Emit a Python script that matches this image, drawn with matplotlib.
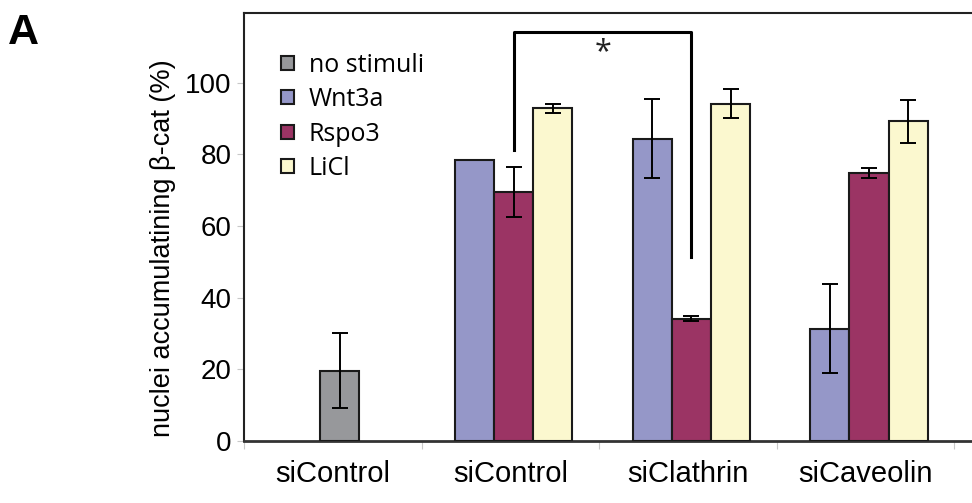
import matplotlib.pyplot as plt
import numpy as np

plt.rcParams['font.family'] = ['Liberation Sans', 'DejaVu Sans']

categories = ["siControl", "siControl", "siClathrin", "siCaveolin"]
series = ["no stimuli", "Wnt3a", "Rspo3", "LiCl"]
colors = ["#97989b", "#9597c8", "#9b3464", "#fbf8cf"]

# no stimuli only in the first group
nostim_val = [19.6]
nostim_err = [10.5]
# stimulated groups: siControl, siClathrin, siCaveolin
wnt3a_val = [78.5, 84.4, 31.4]
wnt3a_err = [np.nan, 11.0, 12.4]
rspo3_val = [69.5, 34.1, 74.9]
rspo3_err = [7.0, 0.7, 1.4]
licl_val = [92.9, 94.2, 89.3]
licl_err = [1.2, 4.1, 6.0]

fig = plt.figure(figsize=(9.72, 5.03), dpi=100)
ax = fig.add_axes([0.251, 0.1233, 0.749, 0.851])

w = 0.22
ekw = dict(ecolor="black", elinewidth=1.4, capsize=6, capthick=1.4)
bkw = dict(edgecolor="#1a1a1a", linewidth=1.5, zorder=3)

ax.bar([0.04], nostim_val, w, yerr=nostim_err, color=colors[0], label=series[0],
       error_kw=ekw, **bkw)
grp = np.array([1, 2, 3])
ax.bar(grp - 0.2, wnt3a_val, w, yerr=wnt3a_err, color=colors[1], label=series[1],
       error_kw=ekw, **bkw)
ax.bar(grp + 0.02, rspo3_val, w, yerr=rspo3_err, color=colors[2], label=series[2],
       error_kw=ekw, **bkw)
ax.bar(grp + 0.24, licl_val, w, yerr=licl_err, color=colors[3], label=series[3],
       error_kw=ekw, **bkw)

# significance bracket between siControl/Rspo3 and siClathrin/Rspo3
x1, x2 = 1 + 0.02, 2 + 0.02
ax.plot([x1, x1, x2, x2], [81.3, 114.3, 114.3, 51.4], color="black", lw=2.2,
        zorder=4, clip_on=False)
ax.text((x1 + x2) / 2, 108.5, "*", ha="center", va="center", fontsize=22,
        family=["Open Sans", "DejaVu Sans"], color="#222222")

ax.set_xlim(-0.5, 3.6)
ax.set_ylim(0, 119.5)
ax.set_yticks([0, 20, 40, 60, 80, 100])
ax.tick_params(axis="y", labelsize=20, length=5, color="#c8c8c8", pad=4)
ax.set_xticks([-0.5, 0.5, 1.5, 2.5, 3.5])
ax.set_xticklabels([])
ax.set_xticks(range(len(categories)), minor=True)
ax.set_xticklabels(categories, minor=True)
ax.tick_params(axis="x", which="major", length=6, color="#c8c8c8")
ax.tick_params(axis="x", which="minor", length=0, labelsize=21, pad=14)

ax.set_ylabel("nuclei accumulatining β-cat (%)", fontsize=19.5)
ax.yaxis.set_label_coords(-0.094, 0.45)

for s in ["top", "left"]:
    ax.spines[s].set_color("#222222")
    ax.spines[s].set_linewidth(1.5)
ax.spines["bottom"].set_color("#333333")
ax.spines["bottom"].set_linewidth(2)
ax.spines["right"].set_visible(False)

ax.legend(loc="upper left", bbox_to_anchor=(0.02, 0.96), frameon=False,
          prop={"family": ["Open Sans", "DejaVu Sans"], "size": 18},
          handlelength=0.5, handleheight=0.5, handletextpad=0.6,
          labelspacing=0.38)

fig.text(0.008, 0.975, "A", fontsize=31, fontweight="bold", va="top")

fig.savefig("out.png", dpi=100)
